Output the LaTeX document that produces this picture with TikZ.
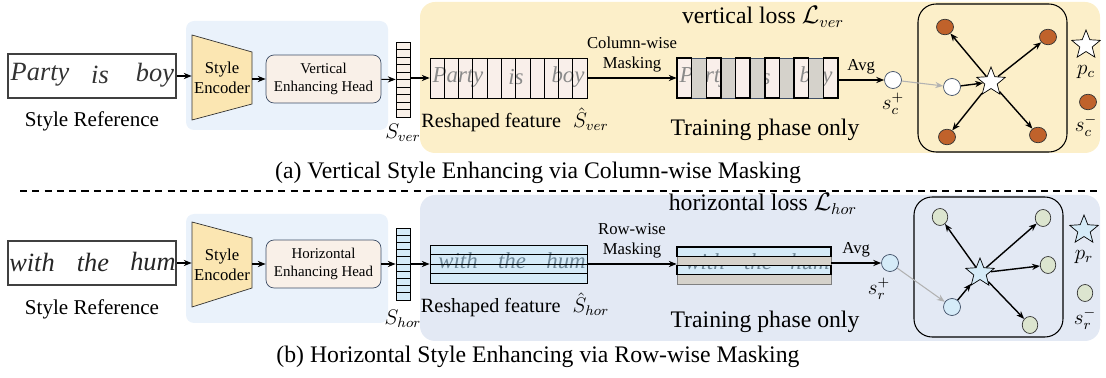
\documentclass[tikz,border=0pt]{standalone}
\usepackage{fontspec}
\setmainfont{Liberation Serif}
\usetikzlibrary{arrows.meta,shapes.geometric,positioning}

\definecolor{encblue}{HTML}{EAF2FB}
\definecolor{panyel}{HTML}{FCEFC9}
\definecolor{panblue}{HTML}{E3E9F4}
\definecolor{trapyel}{HTML}{FBE6B2}
\definecolor{headfill}{HTML}{F9F0E8}
\definecolor{edgeblue}{HTML}{3F4E66}
\definecolor{featpink}{HTML}{F9EFEA}
\definecolor{featblue}{HTML}{D5EBF8}
\definecolor{maskgray}{HTML}{D5D2CB}
\definecolor{negorange}{HTML}{C0622B}
\definecolor{neggreen}{HTML}{DCE5CF}
\definecolor{inkgray}{HTML}{8A8A8A}
\definecolor{inkblue}{HTML}{6E8797}

\gdef\Vfill{featpink}
\gdef\Hfill{featblue}

\tikzset{
  refbox/.style={draw=black!75, line width=0.7pt, fill=white, minimum width=3.36cm, minimum height=0.88cm, inner sep=0pt},
  headbox/.style={draw=edgeblue, fill=headfill, rounded corners=0.16cm, minimum width=2.3cm, minimum height=0.96cm, align=center, font=\fontsize{8.5}{10.5}\selectfont},
  vecbox/.style={draw, minimum width=0.28cm, inner sep=0pt},
  featbox/.style={draw, minimum height=0.8cm, inner sep=0pt},
  dot/.style={draw=edgeblue, ellipse, minimum width=0.34cm, minimum height=0.34cm, inner sep=0pt},
  negdot/.style={draw=black!80, ellipse, minimum width=0.34cm, minimum height=0.31cm, inner sep=0pt},
  starnode/.style={draw, star, star points=5, star point ratio=2.3, minimum size=0.6cm, inner sep=0pt},
  lossbox/.style={draw, line width=0.6pt, rounded corners=0.36cm, minimum width=2.98cm},
  link/.style={->, line width=0.6pt},
  pull/.style={->, line width=0.8pt},
  lbl/.style={inner sep=0pt, font=\fontsize{12}{14}\selectfont},
  hand/.style={inner sep=0pt, font=\fontsize{15}{15}\selectfont\itshape},
  smallhand/.style={inner sep=0pt, font=\fontsize{13}{13}\selectfont\itshape},
  >={Stealth[length=4.5pt,width=3.5pt]}
}

\begin{document}
\begin{tikzpicture}[x=0.02cm, y=-0.02cm, font=\fontsize{11}{13}\selectfont]
\useasboundingbox (0,0) rectangle (1106,378);

% panels
\fill[encblue, rounded corners=0.16cm] (186,21) rectangle (388,130);
\fill[panyel, rounded corners=0.3cm] (420,2) rectangle (1100,153);
\fill[encblue, rounded corners=0.16cm] (186,214) rectangle (388,323);
\fill[panblue, rounded corners=0.3cm] (420,195) rectangle (1100,341);

% ---------- (a) vertical ----------
\node[refbox] (R1) at (92,76) {};
\node[hand, black!80] (R1a) at (40,75) {Party};
\node[hand, black!80] (R1b) at (100,75) {is};
\node[hand, black!80] (R1c) at (155,75) {boy};
\node[lbl] (R1l) at (92,121) {Style Reference};

\draw[fill=trapyel, draw=black!80] (192,35) -- (252,52) -- (252,104) -- (192,120) -- cycle;
\node[align=center, minimum width=1.2cm, inner sep=0pt, font=\fontsize{9.5}{11.5}\selectfont] (E1) at (222,77.5) {Style\\Encoder};
\node[headbox] (H1) at (323.5,79) {Vertical\\Enhancing Head};

\node[vecbox, fill=headfill, minimum height=1.5cm] (V1) at (403,79.5) {};
\foreach \i in {1,...,9} \draw (396,42+\i*7.5) -- (410,42+\i*7.5);
\node[lbl] (V1l) at (403,133) {$S_{ver}$};

\node[featbox, fill=\Vfill, minimum width=3.14cm] (F1) at (508.5,78) {};
\node[smallhand, inkgray] (F1a) at (458,77) {Party};
\node[smallhand, inkgray] (F1b) at (516,77) {is};
\node[smallhand, inkgray] (F1c) at (568,77) {boy};
\foreach \i in {1,...,10} \draw (430+\i*14.27,58) -- ++(0,40);
\node[inner sep=0pt] (F1l) at (515,120) {\fontsize{11.5}{13}\selectfont Reshaped feature\hspace{0.6em}$\hat{S}_{ver}$};

\node[featbox, draw=none, minimum width=3.22cm] (M1) at (757.5,78) {};
\fill[\Vfill] (677,58) rectangle (838,98);
\node[smallhand, inkgray] (M1a) at (705,77) {Party};
\node[smallhand, inkgray] (M1b) at (763,77) {is};
\node[smallhand, inkgray] (M1c) at (816,77) {boy};
\foreach \i in {1,3,...,9} \draw[fill=maskgray, draw=edgeblue] (677+\i*14.636,58) rectangle ++(14.636,40);
\foreach \i in {0,2,...,10} \draw[line width=0.8pt] (677+\i*14.636,58) rectangle ++(14.636,40);

\node[dot, fill=white] (P1) at (893,80) {};
\node[lbl] (P1l) at (893,104) {$s_c^+$};

\node[lossbox, minimum height=2.96cm] (B1) at (992.5,78) {};
\node[starnode, fill=white] (S1) at (991,82) {};
\node[dot, fill=white] (Q1) at (952,87) {};
\node[negdot, fill=negorange] (N1) at (945,27) {};
\node[negdot, fill=negorange] (N2) at (1048,37) {};
\node[negdot, fill=negorange] (N3) at (947,137) {};
\node[negdot, fill=negorange] (N4) at (1038,135) {};

\node[starnode, fill=white] (L1) at (1086,45) {};
\node[lbl] (L1l) at (1086,72) {$p_c$};
\node[negdot, fill=negorange] (L2) at (1088,102) {};
\node[lbl] (L2l) at (1086,126) {$s_c^-$};

\node[font=\fontsize{13.5}{15}\selectfont] (T1) at (763,17) {vertical loss $\mathcal{L}_{ver}$};
\node[font=\fontsize{13.5}{15}\selectfont] (T2) at (765,130) {Training phase only};

\draw[link] (R1.east) -- (R1.east -| E1.west);
\draw[link] (E1.east |- H1) -- (H1);
\draw[link] (H1) -- (V1);
\draw[link] (V1.east |- F1) -- (F1);
\draw[link] (F1) -- node[above, align=center, font=\fontsize{9.5}{11}\selectfont] {Column-wise\\Masking} (M1);
\draw[link] (M1.east |- P1) -- node[above, font=\fontsize{9.5}{11}\selectfont] {Avg} (P1);
\draw[->, gray!60, line width=0.6pt] (P1) -- (Q1);
\draw[pull] (Q1) -- (S1);
\foreach \n in {N1,N2,N3,N4} \draw[pull] (S1) -- (\n);

\node[font=\fontsize{13.5}{15}\selectfont] (C1) at (538,173) {(a) Vertical Style Enhancing via Column-wise Masking};
\draw[dashed, dash pattern=on 4pt off 3pt, line width=0.6pt] (20,191) -- (1100,191);

% ---------- (b) horizontal ----------
\node[refbox] (R2) at (92,263) {};
\node[hand, black!85] (R2a) at (32,262) {with};
\node[hand, black!85] (R2b) at (93,262) {the};
\node[hand, black!85] (R2c) at (153,262) {hum};
\node[lbl] (R2l) at (92,309) {Style Reference};

\draw[fill=trapyel, draw=black!80] (192,222) -- (252,238) -- (252,288) -- (192,307) -- cycle;
\node[align=center, minimum width=1.2cm, inner sep=0pt, font=\fontsize{9.5}{11.5}\selectfont] (E2) at (222,264.5) {Style\\Encoder};
\node[headbox] (H2) at (323.5,264) {Horizontal\\Enhancing Head};

\node[vecbox, fill=\Hfill, minimum height=1.44cm] (V2) at (403,264) {};
\foreach \i in {1,...,9} \draw (396,228+\i*7.2) -- (410,228+\i*7.2);
\node[lbl] (V2l) at (403,319) {$S_{hor}$};

\node[featbox, fill=\Hfill, minimum width=3.14cm, minimum height=0.76cm] (F2) at (508.5,264) {};
\node[smallhand, inkblue] (F2a) at (458,261) {with};
\node[smallhand, inkblue] (F2b) at (512,261) {the};
\node[smallhand, inkblue] (F2c) at (566,261) {hum};
\foreach \i in {1,2,3} \draw (430,245+\i*9.5) -- (587,245+\i*9.5);
\node[inner sep=0pt] (F2l) at (515,305) {\fontsize{11.5}{13}\selectfont Reshaped feature\hspace{0.6em}$\hat{S}_{hor}$};

\node[featbox, draw=none, minimum width=3.08cm, minimum height=0.74cm] (M2) at (754,265.5) {};
\fill[\Hfill] (677,247) rectangle (831,284);
\begin{scope}
\clip (677,247) rectangle (831,284);
\node[smallhand, inkblue] (M2a) at (705,262) {with};
\node[smallhand, inkblue] (M2b) at (758,262) {the};
\node[smallhand, inkblue] (M2c) at (810,262) {hum};
\end{scope}
\foreach \i in {1,3} \draw[fill=maskgray, draw=black!50] (677,247+\i*9.25) rectangle (831,256.25+\i*9.25);
\foreach \i in {0,2} \draw[line width=0.8pt] (677,247+\i*9.25) rectangle (831,256.25+\i*9.25);

\node[dot, fill=\Hfill] (P2) at (890,263) {};
\node[lbl] (P2l) at (879,289) {$s_r^+$};

\node[lossbox, minimum height=2.8cm] (B2) at (988.5,267) {};
\node[starnode, fill=\Hfill] (S2) at (980,273) {};
\node[dot, fill=\Hfill] (Q2) at (952,307) {};
\node[negdot, fill=neggreen, minimum width=0.31cm, minimum height=0.34cm] (N5) at (940,217) {};
\node[negdot, fill=neggreen, minimum width=0.31cm, minimum height=0.34cm] (N6) at (1043,218) {};
\node[negdot, fill=neggreen, minimum width=0.31cm, minimum height=0.34cm] (N7) at (1048,265) {};
\node[negdot, fill=neggreen, minimum width=0.31cm, minimum height=0.34cm] (N8) at (1030,325) {};

\node[starnode, fill=\Hfill] (L3) at (1084,230) {};
\node[lbl] (L3l) at (1084,257) {$p_r$};
\node[negdot, fill=neggreen, minimum width=0.31cm, minimum height=0.34cm] (L4) at (1085,293) {};
\node[lbl] (L4l) at (1085,319) {$s_r^-$};

\node[font=\fontsize{13.5}{15}\selectfont] (T3) at (763,204) {horizontal loss $\mathcal{L}_{hor}$};
\node[font=\fontsize{13.5}{15}\selectfont] (T4) at (765,322) {Training phase only};

\draw[link] (R2.east) -- (R2.east -| E2.west);
\draw[link] (E2.east |- H2) -- (H2);
\draw[link] (H2) -- (V2);
\draw[link] (V2.east |- F2) -- (F2);
\draw[link] (F2) -- node[above, align=center, font=\fontsize{9.5}{11}\selectfont] {Row-wise\\Masking} (F2 -| M2.west);
\draw[link] (M2.east |- P2) -- node[above, font=\fontsize{9.5}{11}\selectfont] {Avg} (P2);
\draw[->, gray!60, line width=0.6pt] (P2) -- (Q2);
\draw[pull] (Q2) -- (S2);
\foreach \n in {N5,N6,N7,N8} \draw[pull] (S2) -- (\n);

\node[font=\fontsize{13.5}{15}\selectfont] (C2) at (538,357) {(b) Horizontal Style Enhancing via Row-wise Masking};
\end{tikzpicture}
\end{document}
